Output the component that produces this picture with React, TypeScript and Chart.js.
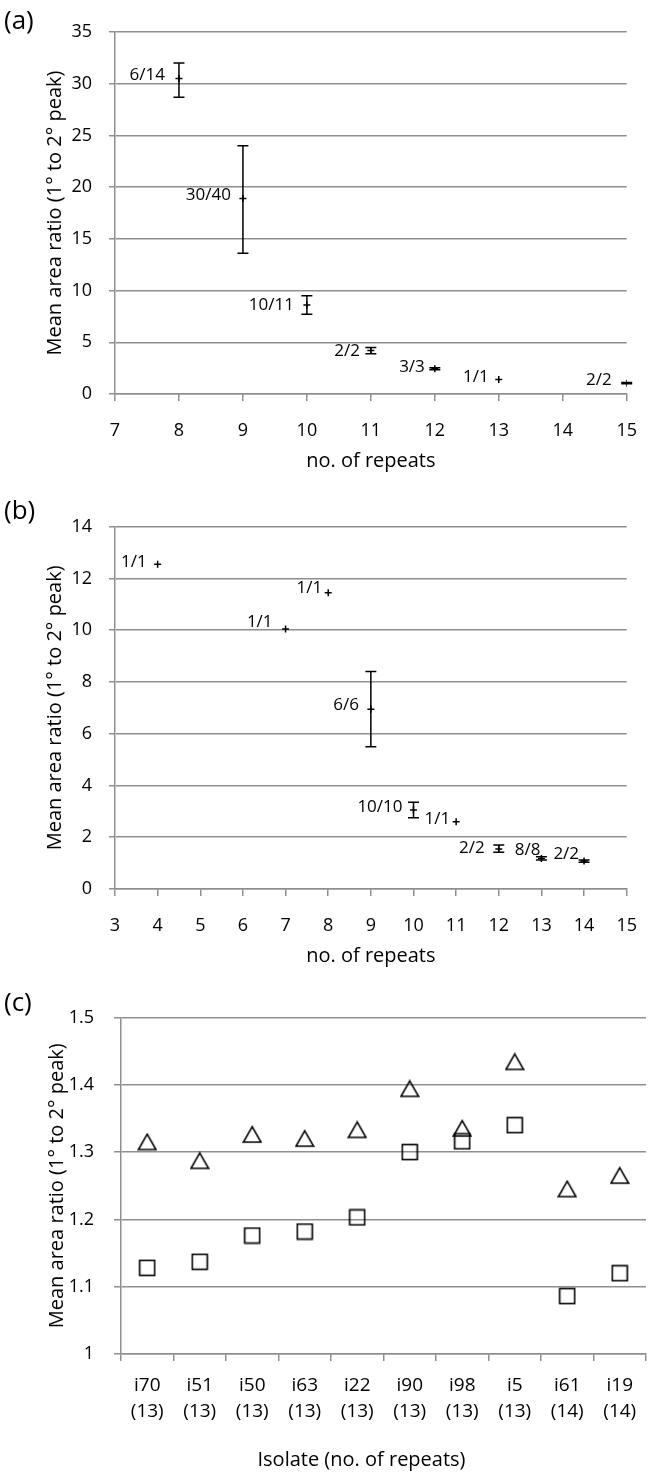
import React, { useEffect, useRef } from 'react';
import { Chart, registerables } from 'chart.js';

Chart.register(...registerables);

const FONT = '"Open Sans", sans-serif';
const GRID = '#8f8f8f';

// ---------- Panel (a) ----------
const repeatsA = [8, 9, 10, 11, 12, 13, 15];
const meanA = [30.5, 18.9, 8.6, 4.2, 2.45, 1.4, 1.05];
const lowA: (number | null)[] = [28.7, 13.6, 7.7, 3.9, 2.35, null, 0.98];
const highA: (number | null)[] = [32.0, 24.0, 9.5, 4.5, 2.55, null, 1.12];
const countsA = ['6/14', '30/40', '10/11', '2/2', '3/3', '1/1', '2/2'];
// label nudges: [gap left of point, vertical shift]
const nudgeA = [[14, -3.5], [12, -3], [13, 0], [11, 1], [10, -1.5], [10, -2.3], [15, -3]];

// ---------- Panel (b) ----------
const repeatsB = [4, 7, 8, 9, 10, 11, 12, 13, 14];
const meanB = [12.55, 10.05, 11.45, 6.95, 3.05, 2.6, 1.55, 1.18, 1.08];
const lowB: (number | null)[] = [null, null, null, 5.5, 2.75, null, 1.42, 1.12, 1.03];
const highB: (number | null)[] = [null, null, null, 8.4, 3.35, null, 1.7, 1.25, 1.12];
const countsB = ['1/1', '1/1', '1/1', '6/6', '10/10', '1/1', '2/2', '8/8', '2/2'];
const nudgeB = [[11, -2], [13, -7], [6, -5], [12, -4], [11, -2.5], [6, -3], [14, -1], [1, -8], [5, -7]];

// ---------- Panel (c) ----------
const isolates = ['i70', 'i51', 'i50', 'i63', 'i22', 'i90', 'i98', 'i5', 'i61', 'i19'];
const isolateRepeats = [13, 13, 13, 13, 13, 13, 13, 13, 14, 14];
const triangleSeries = [1.315, 1.287, 1.326, 1.32, 1.333, 1.394, 1.335, 1.434, 1.245, 1.265];
const squareSeries = [1.128, 1.137, 1.176, 1.182, 1.203, 1.3, 1.316, 1.34, 1.086, 1.12];

const Y_TITLE = 'Mean area ratio (1° to 2° peak)';

function makeErrorBars(xs: number[], lo: (number | null)[], hi: (number | null)[]) {
  return {
    id: 'errorBars',
    afterDatasetsDraw(chart: any) {
      const { ctx, scales } = chart;
      ctx.save();
      ctx.strokeStyle = '#000';
      ctx.lineWidth = 1.5;
      xs.forEach((x, i) => {
        const l = lo[i];
        const h = hi[i];
        if (l == null || h == null) return;
        const px = scales.x.getPixelForValue(x);
        const y1 = scales.y.getPixelForValue(h);
        const y2 = scales.y.getPixelForValue(l);
        ctx.beginPath();
        ctx.moveTo(px, y1);
        ctx.lineTo(px, y2);
        ctx.moveTo(px - 5.5, y1);
        ctx.lineTo(px + 5.5, y1);
        ctx.moveTo(px - 5.5, y2);
        ctx.lineTo(px + 5.5, y2);
        ctx.stroke();
      });
      ctx.restore();
    },
  };
}

function makePointLabels(xs: number[], ys: number[], texts: string[], nudges: number[][]) {
  return {
    id: 'pointLabels',
    afterDatasetsDraw(chart: any) {
      const { ctx, scales } = chart;
      ctx.save();
      ctx.font = `17px ${FONT}`;
      ctx.fillStyle = '#000';
      ctx.textAlign = 'right';
      ctx.textBaseline = 'middle';
      xs.forEach((x, i) => {
        const px = scales.x.getPixelForValue(x);
        const py = scales.y.getPixelForValue(ys[i]);
        ctx.fillText(texts[i], px - nudges[i][0], py + nudges[i][1]);
      });
      ctx.restore();
    },
  };
}

function makePanelLabel(text: string, y: number) {
  return {
    id: 'panelLabel',
    afterDraw(chart: any) {
      const { ctx } = chart;
      ctx.save();
      ctx.font = `26px ${FONT}`;
      ctx.fillStyle = '#000';
      ctx.textAlign = 'left';
      ctx.textBaseline = 'middle';
      ctx.fillText(text, 4, y);
      ctx.restore();
    },
  };
}

const tickFont = { family: FONT, size: 18 };
const titleFont = { family: FONT, size: 20 };

function repeatsChart(
  xs: number[], ys: number[], lo: (number | null)[], hi: (number | null)[],
  texts: string[], nudges: number[][], xMin: number, xMax: number, yMax: number, yStep: number,
  padTop: number, padRight: number, axisH: number, panel: string, panelY: number
) {
  return {
    type: 'scatter' as const,
    data: {
      datasets: [
        {
          label: 'Mean area ratio',
          data: xs.map((x, i) => ({ x, y: ys[i] })),
          pointStyle: 'cross',
          pointRadius: 3.5,
          borderColor: '#000',
          borderWidth: 1.5,
          showLine: false,
        },
      ],
    },
    options: {
      responsive: false,
      animation: false as const,
      layout: { padding: { top: padTop, right: padRight, left: 0, bottom: 0 } },
      plugins: { legend: { display: false }, tooltip: { enabled: false } },
      scales: {
        x: {
          type: 'linear' as const,
          min: xMin,
          max: xMax,
          ticks: { stepSize: 1, font: tickFont, color: '#000', padding: 19 },
          grid: { drawOnChartArea: false, drawTicks: true, tickLength: 7, color: GRID, lineWidth: 1.5 },
          border: { color: GRID, width: 1.5 },
          title: { display: true, text: 'no. of repeats', font: titleFont, color: '#000', padding: { top: 0, bottom: 7 } },
          afterFit: (s: any) => { s.height = axisH; },
        },
        y: {
          min: 0,
          max: yMax,
          ticks: { stepSize: yStep, font: tickFont, color: '#000', padding: 17 },
          grid: { color: GRID, lineWidth: 1.5, tickLength: 6 },
          border: { color: GRID, width: 1.5 },
          title: { display: true, text: Y_TITLE, font: titleFont, color: '#000', padding: { top: 43, bottom: 0 } },
          afterFit: (s: any) => { s.width = 115; },
        },
      },
    },
    plugins: [makeErrorBars(xs, lo, hi), makePointLabels(xs, ys, texts, nudges), makePanelLabel(panel, panelY)],
  };
}

function makeTriangle(): HTMLCanvasElement {
  const c = document.createElement('canvas');
  c.width = 20;
  c.height = 19;
  const ctx = c.getContext('2d')!;
  ctx.strokeStyle = '#000';
  ctx.lineWidth = 1.6;
  ctx.lineJoin = 'miter';
  ctx.beginPath();
  ctx.moveTo(10, 1.6);
  ctx.lineTo(18.8, 17);
  ctx.lineTo(1.2, 17);
  ctx.closePath();
  ctx.stroke();
  return c;
}

function makeSquare(): HTMLCanvasElement {
  const c = document.createElement('canvas');
  c.width = 18;
  c.height = 18;
  const ctx = c.getContext('2d')!;
  ctx.strokeStyle = '#000';
  ctx.lineWidth = 1.6;
  ctx.strokeRect(1.5, 1.5, 15, 15);
  return c;
}

function isolateChart() {
  const tri = makeTriangle();
  const sq = makeSquare();
  const labels = isolates.map((s, i) => [s, `(${isolateRepeats[i]})`]);
  return {
    type: 'line' as const,
    data: {
      labels,
      datasets: [
        {
          label: 'Triangle series',
          data: triangleSeries,
          showLine: false,
          pointStyle: tri,
          pointRadius: 9,
          borderColor: '#000',
        },
        {
          label: 'Square series',
          data: squareSeries,
          showLine: false,
          pointStyle: sq,
          pointRadius: 9,
          borderColor: '#000',
        },
      ],
    },
    options: {
      responsive: false,
      animation: false as const,
      layout: { padding: { top: 42.5, right: 7.5, left: 0, bottom: 0 } },
      plugins: { legend: { display: false }, tooltip: { enabled: false } },
      scales: {
        x: {
          type: 'category' as const,
          offset: true,
          ticks: { font: { family: FONT, size: 19, lineHeight: 26 / 19 }, color: '#000', padding: 12, maxRotation: 0, autoSkip: false },
          grid: { offset: true, drawOnChartArea: false, drawTicks: true, tickLength: 7, color: GRID, lineWidth: 1.5 },
          border: { color: GRID, width: 1.5 },
          afterFit: (s: any) => { s.height = 125; },
        },
        y: {
          min: 1,
          max: 1.5,
          ticks: {
            stepSize: 0.1,
            font: tickFont,
            color: '#000',
            padding: 20,
            callback: (v: any) => String(Number(Number(v).toFixed(1))),
          },
          grid: { color: GRID, lineWidth: 1.5, tickLength: 7 },
          border: { color: GRID, width: 1.5 },
          title: { display: true, text: Y_TITLE, font: titleFont, color: '#000', padding: { top: 45, bottom: 0 } },
          afterFit: (s: any) => { s.width = 121; },
        },
      },
    },
    plugins: [
      makePanelLabel('(c)', 29),
      {
        id: 'xTitle',
        afterDraw(chart: any) {
          const { ctx, chartArea } = chart;
          ctx.save();
          ctx.font = `20px ${FONT}`;
          ctx.fillStyle = '#000';
          ctx.textAlign = 'center';
          ctx.textBaseline = 'middle';
          ctx.fillText('Isolate (no. of repeats)', (chartArea.left + chartArea.right) / 2 - 22, 485);
          ctx.restore();
        },
      },
    ],
  };
}

function ChartCanvas({ height, build }: { height: number; build: () => any }) {
  const ref = useRef<HTMLCanvasElement | null>(null);
  useEffect(() => {
    if (!ref.current) return;
    const chart = new Chart(ref.current, build());
    return () => chart.destroy();
  }, []);
  return <canvas ref={ref} width={656} height={height} style={{ display: 'block', width: 656, height }} />;
}

export default function App() {
  return (
    <div style={{ position: 'absolute', left: 0, top: 0, width: 656, height: 1479, background: '#fff' }}>
      <ChartCanvas
        height={480}
        build={() => repeatsChart(repeatsA, meanA, lowA, highA, countsA, nudgeA, 7, 15, 35, 5, 32, 21, 86, '(a)', 21.5)}
      />
      <ChartCanvas
        height={495}
        build={() => repeatsChart(repeatsB, meanB, lowB, highB, countsB, nudgeB, 3, 15, 14, 2, 46.7, 18.7, 86, '(b)', 32)}
      />
      <ChartCanvas height={504} build={isolateChart} />
    </div>
  );
}
